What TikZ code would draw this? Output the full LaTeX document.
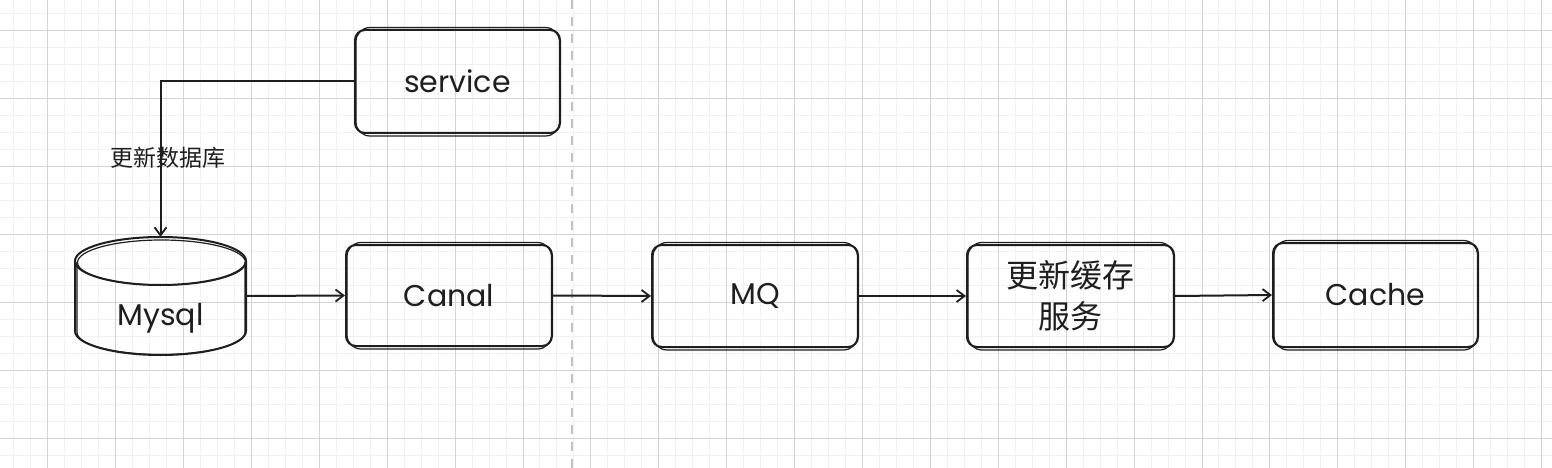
\documentclass[tikz,border=0pt]{standalone}
\usepackage{fontspec}
\setmainfont{Poppins}
\newfontfamily\cjk{Noto Sans CJK SC}
\usetikzlibrary{arrows.meta}
\definecolor{ink}{HTML}{1E1E1E}
\definecolor{gmaj}{HTML}{D4D4D4}
\definecolor{gmin}{HTML}{F1F1F1}
\definecolor{dashc}{HTML}{C2C2C2}
\tikzset{
  box/.style={draw=ink, line width=2pt, rounded corners=10pt, inner sep=0pt,
    minimum width=#1, minimum height=102pt,
    font=\fontsize{30}{36}\selectfont, text=ink},
  arr/.style={ink, line width=2pt, -{Straight Barb[length=8pt,width=12pt,line width=1.8pt]}},
  sketch/.style={ink, line width=2pt},
  sketchb/.style={ink, line width=1.2pt},
}
\newcommand{\skb}[1]{\draw[sketchb, rounded corners=14pt] ([shift={(2pt,1.5pt)}]#1.north west) rectangle ([shift={(-1.5pt,-2pt)}]#1.south east);}
\begin{document}
\begin{tikzpicture}[x=1pt,y=-1pt]
\useasboundingbox (0,0) rectangle (1552,468);
\fill[white] (0,0) rectangle (1552,468);
\begin{scope}
\clip (0,0) rectangle (1552,468);
\foreach \i in {-3,...,90} \draw[gmin, line width=1pt] ({47.7+\i*16.975},0) -- ++(0,468);
\foreach \i in {-2,...,26} \draw[gmin, line width=1pt] (0,{30.7+\i*16.975}) -- ++(1552,0);
\foreach \i in {0,...,22} \draw[gmaj, line width=1pt] ({47.7+\i*67.9},0) -- ++(0,468);
\foreach \i in {0,...,6} \draw[gmaj, line width=1pt] (0,{30.7+\i*67.9}) -- ++(1552,0);
\end{scope}
\draw[dashc, line width=1.5pt, dash pattern=on 9pt off 8pt] (572,0) -- (572,468);

% nodes
\node[box=205pt, minimum height=103pt] (service) at (457.5,81.5) {service};
\node[box=206pt, minimum height=101pt] (canal) at (449,295.5) {Canal};
\node[box=206pt] (mq) at (755,296) {MQ};
\node[box=207pt, font=\cjk\fontsize{32}{41}\selectfont, align=center] (upd) at (1070.5,296) {更新缓存\\服务};
\node[box=205pt, minimum height=104pt] (cache) at (1375.5,295) {Cache};
\skb{service}\skb{canal}\skb{mq}\skb{upd}\skb{cache}

% cylinder
\node[minimum width=171pt, minimum height=118pt, inner sep=0pt] (mysql) at (160.5,296) {};
\draw[sketch] (160.5,261) ellipse [x radius=85.5pt, y radius=24pt];
\draw[sketch] (75,261) -- (75,331) arc[start angle=180, end angle=360, x radius=85.5pt, y radius=24pt] -- (246,261);
\draw[sketchb] (161.5,262.5) ellipse [x radius=84pt, y radius=22.5pt];
\draw[sketchb] (77,262) -- (77,332.5) arc[start angle=180, end angle=360, x radius=84pt, y radius=22pt] -- (245,262);
\node[font=\fontsize{30}{36}\selectfont, text=ink] (mysqlt) at (160.5,318) {Mysql};

% connectors
\draw[arr] (service.west) -| (mysql.north);
\node[font=\cjk\fontsize{23}{27}\selectfont, text=ink] (lbl) at (168,158) {更新数据库};
\draw[arr] (mysql.east) -- (canal.west);
\draw[arr] (canal.east) -- (mq.west);
\draw[arr] (mq.east) -- (upd.west);
\draw[arr] (upd.east) -- (cache.west);
\end{tikzpicture}
\end{document}
